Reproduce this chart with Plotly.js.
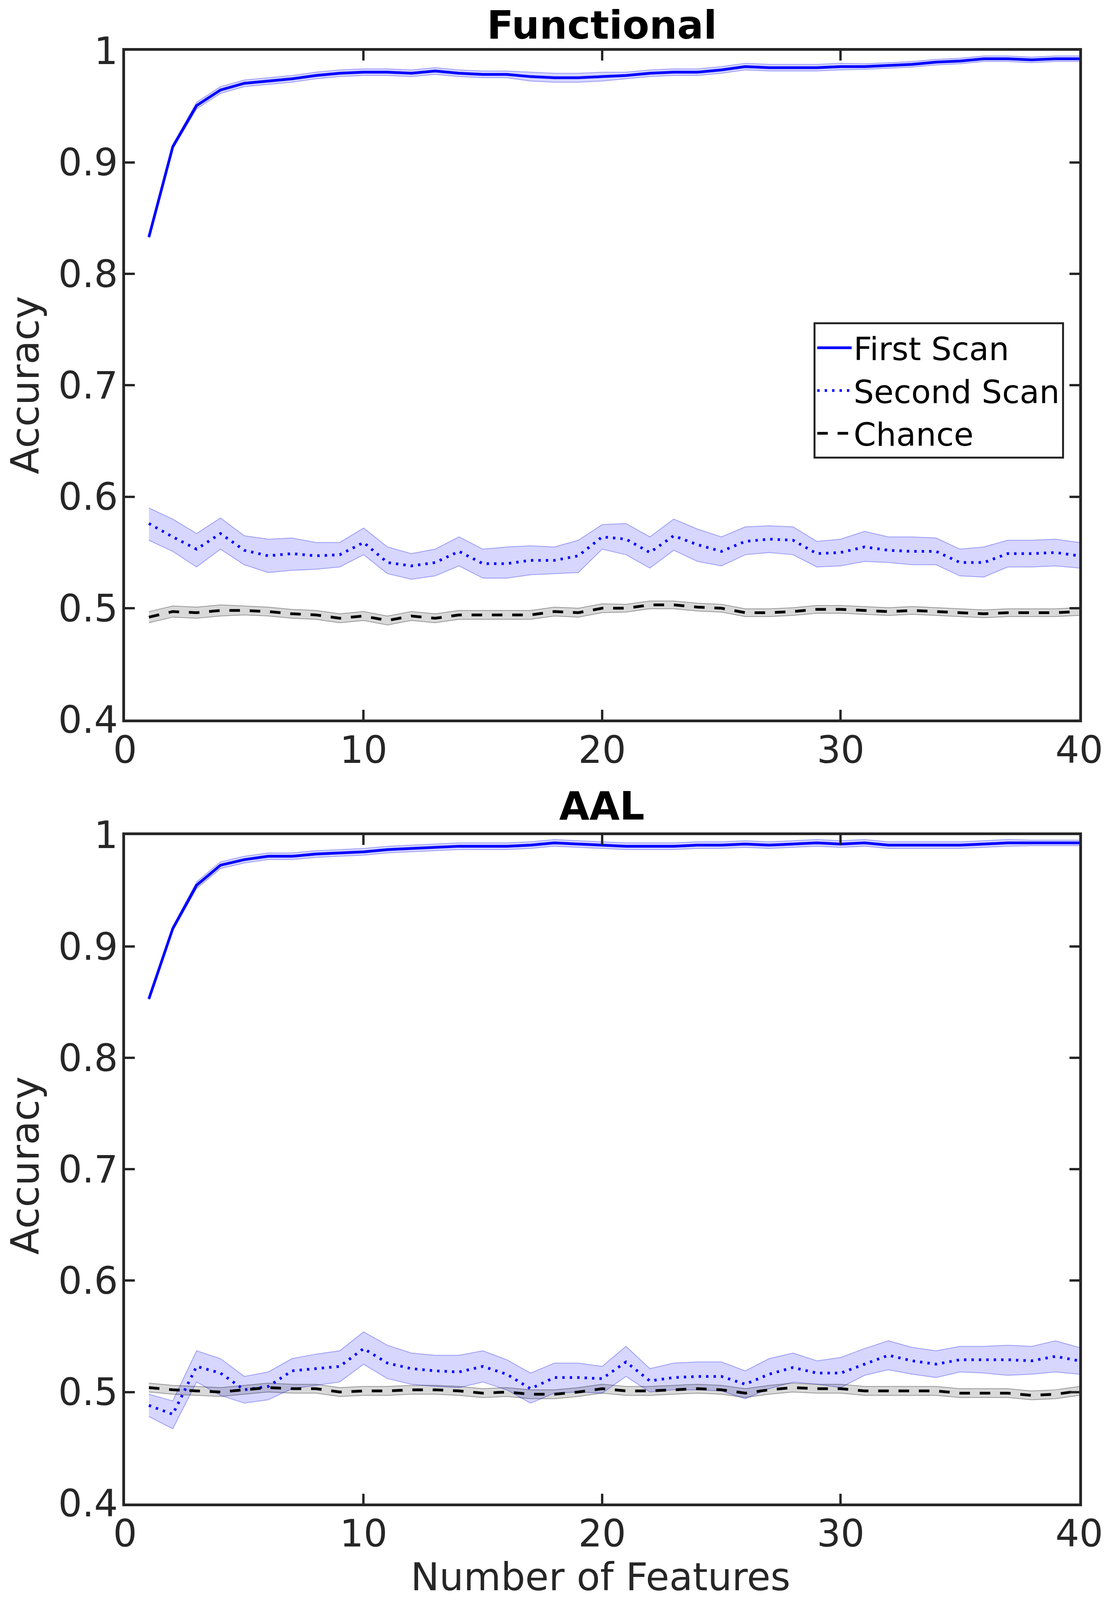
<!DOCTYPE html>
<html>
<head>
<meta charset="utf-8">
<script src="https://cdn.plot.ly/plotly-3.0.1.min.js"></script>
<style>
  html, body { margin: 0; padding: 0; background: #fff; overflow: hidden; }
  #chart { width: 100vw; height: 100vh; }
</style>
</head>
<body>
<div id="chart"></div>
<script>
// number of features, 1..40
var nFeat = [1,2,3,4,5,6,7,8,9,10,11,12,13,14,15,16,17,18,19,20,
             21,22,23,24,25,26,27,28,29,30,31,32,33,34,35,36,37,38,39,40];

// ---- Functional parcellation ----
var funcFirst = [0.833,0.914,0.951,0.965,0.971,0.973,0.975,0.978,0.980,0.981,
                 0.981,0.980,0.982,0.980,0.979,0.979,0.977,0.976,0.976,0.977,
                 0.978,0.980,0.981,0.981,0.983,0.986,0.985,0.985,0.985,0.986,
                 0.986,0.987,0.988,0.990,0.991,0.993,0.993,0.992,0.993,0.993];
var funcFirstErr = [0.001,0.002,0.003,0.003,0.003,0.003,0.003,0.003,0.003,0.003,
                    0.003,0.003,0.003,0.003,0.003,0.003,0.004,0.004,0.004,0.004,
                    0.003,0.003,0.003,0.003,0.003,0.003,0.003,0.003,0.003,0.003,
                    0.0025,0.0025,0.0025,0.0025,0.0025,0.0025,0.0025,0.0025,0.0025,0.0025];

var funcSecond = [0.576,0.564,0.553,0.567,0.552,0.547,0.549,0.547,0.548,0.559,
                  0.541,0.538,0.541,0.551,0.540,0.540,0.543,0.543,0.547,0.564,
                  0.562,0.550,0.565,0.557,0.551,0.560,0.562,0.561,0.549,0.550,
                  0.555,0.552,0.551,0.551,0.541,0.541,0.549,0.549,0.550,0.547];
var funcSecondHi = [0.590,0.580,0.567,0.581,0.565,0.562,0.563,0.559,0.559,0.572,
                    0.555,0.549,0.553,0.564,0.553,0.555,0.556,0.555,0.561,0.575,
                    0.576,0.564,0.580,0.571,0.564,0.573,0.574,0.573,0.560,0.562,
                    0.569,0.564,0.564,0.563,0.553,0.555,0.561,0.561,0.562,0.559];
var funcSecondLo = [0.561,0.551,0.537,0.553,0.539,0.532,0.534,0.535,0.537,0.548,
                    0.531,0.526,0.529,0.538,0.527,0.527,0.530,0.531,0.532,0.553,
                    0.548,0.536,0.552,0.542,0.538,0.548,0.550,0.548,0.537,0.538,
                    0.542,0.541,0.539,0.539,0.529,0.528,0.537,0.537,0.538,0.536];

var funcChance = [0.492,0.497,0.496,0.498,0.498,0.497,0.495,0.494,0.491,0.493,
                  0.489,0.493,0.491,0.494,0.494,0.494,0.494,0.497,0.496,0.500,
                  0.500,0.503,0.503,0.501,0.500,0.496,0.496,0.497,0.499,0.499,
                  0.498,0.497,0.498,0.497,0.496,0.495,0.496,0.496,0.496,0.497];
var funcChanceErr = [0.005,0.005,0.005,0.005,0.004,0.004,0.004,0.004,0.004,0.004,
                     0.004,0.004,0.004,0.004,0.004,0.004,0.004,0.004,0.004,0.004,
                     0.0035,0.0035,0.0035,0.0035,0.0035,0.0035,0.0035,0.0035,0.0035,0.0035,
                     0.0035,0.0035,0.0035,0.0035,0.0035,0.0035,0.0035,0.0035,0.0035,0.0035];

// ---- AAL parcellation ----
var aalFirst = [0.853,0.916,0.955,0.973,0.978,0.981,0.981,0.983,0.984,0.985,
                0.987,0.988,0.989,0.990,0.990,0.990,0.991,0.993,0.992,0.991,
                0.990,0.990,0.990,0.991,0.991,0.992,0.991,0.992,0.993,0.992,
                0.993,0.991,0.991,0.991,0.991,0.992,0.993,0.993,0.993,0.993];
var aalFirstErr = [0.001,0.002,0.003,0.003,0.003,0.003,0.003,0.003,0.003,0.003,
                   0.003,0.003,0.003,0.003,0.003,0.003,0.003,0.003,0.003,0.003,
                   0.003,0.003,0.003,0.003,0.003,0.003,0.003,0.003,0.003,0.003,
                   0.003,0.003,0.003,0.003,0.003,0.003,0.003,0.0025,0.0025,0.0025];

var aalSecond = [0.488,0.480,0.523,0.517,0.502,0.505,0.519,0.521,0.523,0.539,
                 0.526,0.521,0.519,0.518,0.523,0.516,0.503,0.513,0.513,0.512,
                 0.527,0.510,0.513,0.514,0.514,0.507,0.516,0.522,0.517,0.517,
                 0.525,0.533,0.528,0.525,0.529,0.529,0.529,0.528,0.532,0.528];
var aalSecondHi = [0.498,0.492,0.537,0.530,0.514,0.518,0.530,0.534,0.537,0.554,
                   0.542,0.535,0.533,0.533,0.537,0.529,0.517,0.526,0.526,0.523,
                   0.541,0.521,0.526,0.527,0.527,0.519,0.530,0.535,0.528,0.531,
                   0.539,0.546,0.540,0.537,0.541,0.541,0.542,0.541,0.546,0.540];
var aalSecondLo = [0.478,0.467,0.509,0.497,0.490,0.493,0.503,0.506,0.509,0.525,
                   0.512,0.507,0.505,0.504,0.509,0.502,0.490,0.499,0.500,0.499,
                   0.514,0.500,0.502,0.502,0.501,0.494,0.503,0.509,0.507,0.504,
                   0.515,0.520,0.516,0.513,0.518,0.517,0.515,0.516,0.518,0.516];

var aalChance = [0.504,0.502,0.501,0.500,0.502,0.504,0.503,0.503,0.500,0.501,
                 0.501,0.502,0.502,0.501,0.499,0.500,0.498,0.498,0.500,0.503,
                 0.501,0.501,0.502,0.503,0.502,0.499,0.502,0.504,0.503,0.503,
                 0.501,0.501,0.501,0.501,0.499,0.499,0.499,0.497,0.498,0.501];
var aalChanceErr = [0.004,0.004,0.004,0.004,0.004,0.004,0.004,0.004,0.004,0.004,
                    0.004,0.004,0.004,0.004,0.004,0.004,0.004,0.004,0.004,0.004,
                    0.004,0.004,0.004,0.004,0.004,0.004,0.004,0.004,0.004,0.004,
                    0.004,0.004,0.004,0.004,0.004,0.004,0.004,0.004,0.004,0.004];

var yTicks = [0.4,0.5,0.6,0.7,0.8,0.9,1];
var xTicks = [0,10,20,30,40];

var BLUE = 'rgb(0,0,255)';
var BLUE_FILL = 'rgba(0,0,255,0.16)';
var BLUE_EDGE = 'rgba(60,60,235,0.45)';
var GREY_FILL = 'rgba(0,0,0,0.15)';
var GREY_EDGE = 'rgba(0,0,0,0.35)';

function plusErr(m, e) { return m.map(function (v, i) { return v + e[i]; }); }
function minusErr(m, e) { return m.map(function (v, i) { return v - e[i]; }); }

// shaded band: upper edge then lower edge filled to it
function band(hi, lo, fill, edge, xa, ya) {
    return [
        {x: nFeat, y: hi, xaxis: xa, yaxis: ya, mode: 'lines', type: 'scatter',
         line: {color: edge, width: 2}, showlegend: false, hoverinfo: 'skip'},
        {x: nFeat, y: lo, xaxis: xa, yaxis: ya, mode: 'lines', type: 'scatter',
         line: {color: edge, width: 2}, fill: 'tonexty', fillcolor: fill,
         showlegend: false, hoverinfo: 'skip'}
    ];
}

function meanLine(y, name, color, dash, xa, ya, legend) {
    return {x: nFeat, y: y, xaxis: xa, yaxis: ya, mode: 'lines', type: 'scatter',
            name: name, line: {color: color, width: 7, dash: dash},
            showlegend: legend};
}

var data = [].concat(
    band(plusErr(funcFirst, funcFirstErr), minusErr(funcFirst, funcFirstErr), BLUE_FILL, BLUE_EDGE, 'x', 'y'),
    band(funcSecondHi, funcSecondLo, BLUE_FILL, BLUE_EDGE, 'x', 'y'),
    band(plusErr(funcChance, funcChanceErr), minusErr(funcChance, funcChanceErr), GREY_FILL, GREY_EDGE, 'x', 'y'),
    band(plusErr(aalFirst, aalFirstErr), minusErr(aalFirst, aalFirstErr), BLUE_FILL, BLUE_EDGE, 'x2', 'y2'),
    band(aalSecondHi, aalSecondLo, BLUE_FILL, BLUE_EDGE, 'x2', 'y2'),
    band(plusErr(aalChance, aalChanceErr), minusErr(aalChance, aalChanceErr), GREY_FILL, GREY_EDGE, 'x2', 'y2'),
    [
        meanLine(funcFirst, 'First Scan', BLUE, 'solid', 'x', 'y', true),
        meanLine(funcSecond, 'Second Scan', BLUE, '6px,13px', 'x', 'y', true),
        meanLine(funcChance, 'Chance', 'black', '27px,25px', 'x', 'y', true),
        meanLine(aalFirst, 'First Scan', BLUE, 'solid', 'x2', 'y2', false),
        meanLine(aalSecond, 'Second Scan', BLUE, '6px,13px', 'x2', 'y2', false),
        meanLine(aalChance, 'Chance', 'black', '27px,25px', 'x2', 'y2', false)
    ]
);

var W = window.innerWidth || 2833;
var H = window.innerHeight || 4489;
// the viewport may be shorter than the requested window: scale text a little
var fs = Math.min(1, (W / 2833 + H / 4489) / 2);

var AX = '#262626';
var tickFont = {family: 'DejaVu Sans', size: Math.round(100 * fs), color: AX};

function xAxis(anchor) {
    return {domain: [0.11295, 0.97494], anchor: anchor, range: [0, 40],
            tickvals: xTicks, ticks: 'inside', ticklen: 25, tickwidth: 6, tickcolor: AX,
            ticklabelstandoff: -12,
            showline: true, linewidth: 7, linecolor: AX, mirror: 'ticks',
            showgrid: false, zeroline: false, tickfont: tickFont, fixedrange: true};
}
function yAxis(anchor, dom) {
    return {domain: dom, anchor: anchor, range: [0.4, 1],
            tickvals: yTicks, ticks: 'inside', ticklen: 25, tickwidth: 6, tickcolor: AX,
            ticklabelstandoff: -8,
            showline: true, linewidth: 7, linecolor: AX, mirror: 'ticks',
            showgrid: false, zeroline: false, tickfont: tickFont, fixedrange: true};
}

var titleSize = Math.round(105 * fs);

var layout = {
    width: W,
    height: H,
    margin: {l: 0, r: 0, t: 0, b: 0},
    paper_bgcolor: 'white',
    plot_bgcolor: 'white',
    xaxis: xAxis('y'),
    yaxis: yAxis('x', [0.5502, 0.96814]),
    xaxis2: xAxis('y2'),
    yaxis2: yAxis('x2', [0.06037, 0.47806]),
    showlegend: true,
    legend: {x: 0.961, y: 0.7985, xanchor: 'right', yanchor: 'top',
             traceorder: 'normal',
             bgcolor: 'white', bordercolor: AX, borderwidth: 5,
             font: {family: 'DejaVu Sans', size: Math.round(86 * fs), color: 'black'},
             itemwidth: 88, tracegroupgap: 0},
    annotations: [
        {text: '<b>Functional</b>', xref: 'paper', yref: 'paper', x: 0.5439, y: 1, yshift: -4,
         xanchor: 'center', yanchor: 'top', showarrow: false,
         font: {family: 'DejaVu Sans', size: titleSize, color: 'black'}},
        {text: '<b>AAL</b>', xref: 'paper', yref: 'paper', x: 0.5439, y: 0.4961,
         xanchor: 'center', yanchor: 'middle', showarrow: false,
         font: {family: 'DejaVu Sans', size: titleSize, color: 'black'}},
        {text: 'Accuracy', xref: 'paper', yref: 'paper', x: 0, xshift: 4, y: 0.7594,
         xanchor: 'left', yanchor: 'middle', textangle: -90, showarrow: false,
         font: {family: 'DejaVu Sans', size: titleSize, color: AX}},
        {text: 'Accuracy', xref: 'paper', yref: 'paper', x: 0, xshift: 4, y: 0.2716,
         xanchor: 'left', yanchor: 'middle', textangle: -90, showarrow: false,
         font: {family: 'DejaVu Sans', size: titleSize, color: AX}},
        {text: 'Number of Features', xref: 'paper', yref: 'paper', x: 0.5425, y: 0, yshift: 1,
         xanchor: 'center', yanchor: 'bottom', showarrow: false, borderpad: 0,
         font: {family: 'DejaVu Sans', size: Math.round(102 * fs), color: AX}}
    ]
};

Plotly.newPlot('chart', data, layout, {staticPlot: true});
</script>
</body>
</html>
